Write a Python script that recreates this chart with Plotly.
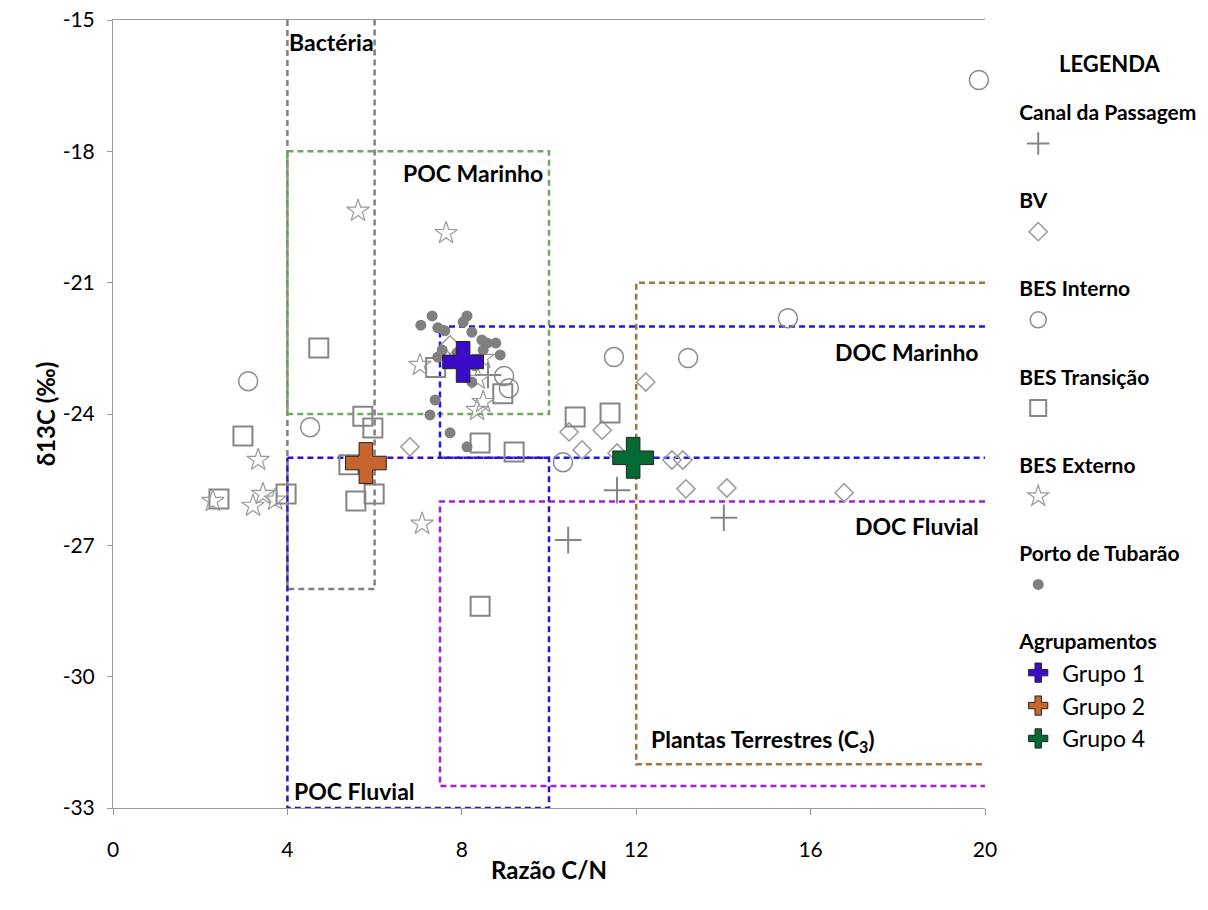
import plotly.graph_objects as go

# ---------------- data ----------------
canal_x = [8.6, 11.56, 10.44, 14.01]
canal_y = [-23.11, -25.74, -26.88, -26.37]

bv_x = [7.73, 6.81, 12.22, 10.46, 11.22, 10.76, 11.56, 12.82, 13.07, 13.14, 14.08, 16.77]
bv_y = [-22.42, -24.75, -23.27, -24.41, -24.37, -24.82, -24.89, -25.05, -25.05, -25.71, -25.69, -25.80]

int_x = [19.86, 15.48, 11.49, 13.19, 3.10, 4.52, 10.32, 8.97, 9.08]
int_y = [-16.37, -21.81, -22.70, -22.72, -23.25, -24.30, -25.10, -23.13, -23.41]

trans_x = [4.72, 2.98, 2.43, 3.97, 5.73, 5.96, 5.41, 5.99, 5.57, 7.40, 8.94, 8.42, 9.20, 10.60, 11.40, 8.42]
trans_y = [-22.49, -24.50, -25.94, -25.83, -24.05, -24.32, -25.16, -25.83, -25.99, -22.94, -23.54, -24.66, -24.87, -24.07, -23.98, -28.39]

ext_x = [5.62, 7.64, 7.04, 8.49, 8.37, 8.49, 8.35, 3.33, 2.29, 3.21, 3.44, 3.72, 7.09]
ext_y = [-19.36, -19.87, -22.88, -22.72, -23.20, -23.73, -23.91, -25.05, -25.99, -26.10, -25.83, -25.96, -26.51]

porto_x = [7.32, 7.06, 8.12, 8.03, 7.45, 7.61, 8.23, 8.46, 8.58, 8.78, 8.49, 8.88,
           7.55, 7.45, 8.23, 7.39, 7.27, 7.73, 8.12, 7.90, 8.30]
porto_y = [-21.76, -21.97, -21.76, -21.90, -22.03, -22.10, -22.13, -22.31, -22.38, -22.38, -22.54, -22.65,
           -22.54, -22.70, -23.27, -23.68, -24.02, -24.43, -24.75, -22.60, -22.90]

group_names = ["Grupo 1", "Grupo 2", "Grupo 4"]
group_x = [8.03, 5.80, 11.93]
group_y = [-22.81, -25.12, -25.00]
group_colors = ["#3A0CC8", "#C8642E", "#046A34"]

x_ticks = [0, 4, 8, 12, 16, 20]
y_ticks = [-15, -18, -21, -24, -27, -30, -33]

# Reference regions (C/N and d13C bounds); open side = side not drawn
region_names = ["Bactéria", "POC Marinho", "DOC Marinho", "POC Fluvial", "DOC Fluvial", "Plantas Terrestres (C<sub>3</sub>)"]
region_x0 = [4, 4, 7.5, 4, 7.5, 12]
region_x1 = [6, 10, 20, 10, 20, 20]
region_y0 = [-28, -24, -25, -33, -32.5, -32]
region_y1 = [-15, -18, -22, -25, -26, -21]
region_open = ["top", None, "right", None, "right", "right"]
region_colors = ["#808080", "#6FA860", "#1A1AF0", "#3D0BC0", "#A01FE0", "#A8703A"]

# label anchor values (data units)
label_x = [5.0, 8.26, 19.9, 4.1, 19.9, 12.3]
label_y = [-15.5, -18.5, -22.58, -32.62, -26.56, -31.45]
label_xanchor = ["center", "center", "right", "left", "right", "left"]

FONT = "Lato, 'Open Sans', sans-serif"

fig = go.Figure()

# region boxes
for i in range(len(region_names)):
    x0, x1, y0, y1 = region_x0[i], region_x1[i], region_y0[i], region_y1[i]
    op = region_open[i]
    if op == "top":
        xs, ys = [x0, x0, x1, x1], [y1, y0, y0, y1]
    elif op == "right":
        xs, ys = [x1, x0, x0, x1], [y1, y1, y0, y0]
    else:
        xs, ys = [x0, x1, x1, x0, x0], [y1, y1, y0, y0, y1]
    fig.add_trace(go.Scatter(x=xs, y=ys, mode="lines", showlegend=False, hoverinfo="skip",
                             line=dict(color=region_colors[i], width=2.5, dash="6px,4px")))
    fig.add_annotation(x=label_x[i], y=label_y[i], text="<b>" + region_names[i] + "</b>",
                       showarrow=False, xanchor=label_xanchor[i], yanchor="middle",
                       font=dict(family=FONT, size=23, color="black"))

gray = "#858585"
series = [
    ("Canal da Passagem", canal_x, canal_y, dict(symbol="cross-thin-open", size=19, color=gray, line=dict(color=gray, width=2))),
    ("BV", bv_x, bv_y, dict(symbol="diamond-open", size=14, color="#9a9a9a", line=dict(color="#9a9a9a", width=1.5))),
    ("BES Interno", int_x, int_y, dict(symbol="circle-open", size=19, color="#8a8a8a", line=dict(color="#8a8a8a", width=1.5))),
    ("BES Transição", trans_x, trans_y, dict(symbol="square-open", size=19, color="#858585", line=dict(color="#858585", width=2))),
    ("BES Externo", ext_x, ext_y, dict(symbol="star-open", size=17, color="#9a9a9a", line=dict(color="#9a9a9a", width=1.2))),
    ("Porto de Tubarão", porto_x, porto_y, dict(symbol="circle", size=11, color="#808080", line=dict(width=0))),
]
for name, xs, ys, mk in series:
    fig.add_trace(go.Scatter(x=xs, y=ys, mode="markers", name=" ", marker=mk, cliponaxis=False,
                             legendgroup=name, legendgrouptitle=dict(text="<b>" + name + "</b>",
                                                                     font=dict(family=FONT, size=21, color="black"))))

for i in range(len(group_names)):
    fig.add_trace(go.Scatter(x=[group_x[i]], y=[group_y[i]], mode="markers", name=group_names[i],
                             cliponaxis=False,
                             marker=dict(symbol="cross", size=34, color=group_colors[i],
                                         line=dict(color="#222222", width=1)),
                             legendgroup="Agrupamentos",
                             legendgrouptitle=dict(text="<b>Agrupamentos</b>",
                                                   font=dict(family=FONT, size=21, color="black"))))

fig.add_annotation(xref="paper", yref="paper", x=1.1433, y=0.9442, text="<b>LEGENDA</b>",
                   showarrow=False, xanchor="center", yanchor="middle",
                   font=dict(family=FONT, size=22, color="black"))

fig.update_layout(
    width=1208, height=910,
    margin=dict(l=113, r=223, t=20, b=102, autoexpand=False),
    paper_bgcolor="white", plot_bgcolor="white",
    font=dict(family=FONT, size=21, color="black"),
    showlegend=True,
    legend=dict(x=1.0335, y=0.909, xanchor="left", yanchor="top",
                font=dict(family=FONT, size=23, color="black"),
                tracegroupgap=25, itemsizing="trace", itemwidth=38, bgcolor="rgba(0,0,0,0)"),
    xaxis=dict(range=[0, 20], tickvals=x_ticks, ticktext=[str(v) for v in x_ticks],
               showgrid=False, zeroline=False,
               showline=True, linecolor="#9a9a9a", linewidth=1, mirror=True,
               ticks="outside", ticklen=6, tickcolor="#9a9a9a", ticklabelstandoff=17,
               ticklabeloverflow="allow",
               tickfont=dict(family=FONT, size=21),
               title=dict(text="<b>Razão C/N</b>", font=dict(family=FONT, size=24), standoff=1)),
    yaxis=dict(range=[-33, -15], tickvals=y_ticks, ticktext=[str(v) for v in y_ticks],
               showgrid=False, zeroline=False,
               showline=True, linecolor="#9a9a9a", linewidth=1,
               ticks="outside", ticklen=5, tickcolor="#9a9a9a", ticklabelstandoff=8,
               ticklabeloverflow="allow",
               tickfont=dict(family=FONT, size=21),
               title=dict(text="<b>δ13C (‰)</b>", font=dict(family=FONT, size=24), standoff=0)),
)

fig.write_html("out.html", config={"displayModeBar": False},
               post_script="document.body.style.margin='0';document.body.style.overflow='hidden';")
